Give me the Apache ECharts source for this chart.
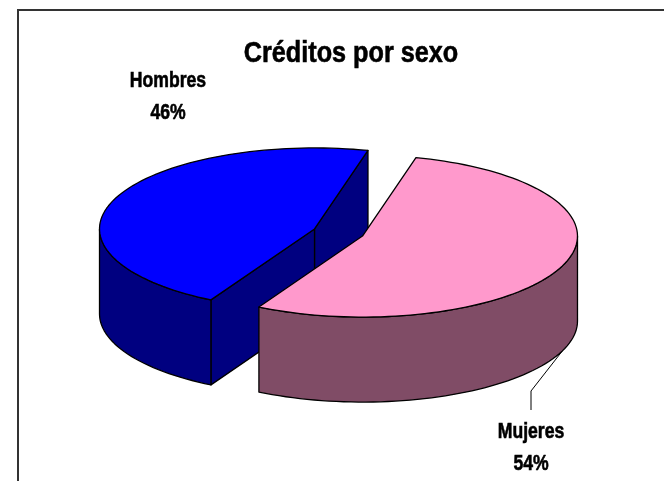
<!DOCTYPE html>
<html>
<head>
<meta charset="utf-8">
<script src="https://cdn.jsdelivr.net/npm/echarts@6/dist/echarts.min.js"></script>
<style>
html, body { margin: 0; padding: 0; background: #fff; }
#chart { width: 664px; height: 481px; }
</style>
</head>
<body>
<div id="chart"></div>
<script>
// data
const categories = ['Hombres', 'Mujeres'];
const values = [46, 54];

// look
const topColors = ['#0000FF', '#FF99CC'];
const sideColors = ['#000080', '#804C66'];
const FONT = '"Liberation Sans", Arial, sans-serif';
const NARROW = 0.8; // squeeze text horizontally, the original uses a narrow face

// 3d pie geometry (ellipse radii, thickness, explode ratio)
const CX = 338.5, CY = 232.5, RX = 215, RY = 81, DEPTH = 85, EXPLODE = 0.12;
const START = 241.2; // math degrees, slices run clockwise from here

const total = values.reduce((s, v) => s + v, 0);
let acc = 0;
const slices = values.map(v => {
    const to = START - acc / total * 360;
    acc += v;
    const from = START - acc / total * 360;
    return { from: from, to: to };
});

function rad(d) { return d * Math.PI / 180; }

function narrowText(txt, x, y, size, sx) {
    return {
        type: 'text',
        x: x, y: y, scaleX: sx,
        style: {
            text: txt, x: 0, y: 0, fill: '#000', stroke: '#000', lineWidth: 0.6,
            font: 'bold ' + size + 'px ' + FONT, align: 'center', verticalAlign: 'middle'
        }
    };
}

function renderSlice(params, api) {
    const i = params.dataIndex;
    const sl = slices[i];
    const mid = rad((sl.from + sl.to) / 2);
    const cx = CX + EXPLODE * RX * Math.cos(mid);
    const cy = CY - EXPLODE * RY * Math.sin(mid);
    const pt = (deg, z) => [cx + RX * Math.cos(rad(deg)), cy - RY * Math.sin(rad(deg)) + z];
    const arc = (a0, a1, z) => {
        const n = Math.max(2, Math.ceil(Math.abs(a1 - a0) / 2));
        const out = [];
        for (let k = 0; k <= n; k++) out.push(pt(a0 + (a1 - a0) * k / n, z));
        return out;
    };
    const edge = { stroke: '#000', lineWidth: 1.3, lineJoin: 'round' };
    const children = [];

    // radial faces, only the ones turned to the viewer
    [[sl.from, -90], [sl.to, 90]].forEach(([ang, off]) => {
        if (Math.sin(rad(ang + off)) < 0) {
            children.push({
                type: 'polygon',
                shape: { points: [[cx, cy], pt(ang, 0), pt(ang, DEPTH), [cx, cy + DEPTH]] },
                style: Object.assign({ fill: sideColors[i] }, edge)
            });
        }
    });

    // outer wall on the front half
    for (let k = -1; k <= 1; k++) {
        const s = Math.max(sl.from, 180 + 360 * k);
        const e = Math.min(sl.to, 360 + 360 * k);
        if (e > s) {
            children.push({
                type: 'polygon',
                shape: { points: arc(s, e, 0).concat(arc(e, s, DEPTH)) },
                style: Object.assign({ fill: sideColors[i] }, edge)
            });
        }
    }

    // top face
    children.push({
        type: 'polygon',
        shape: { points: [[cx, cy]].concat(arc(sl.from, sl.to, 0)) },
        style: Object.assign({ fill: topColors[i] }, edge)
    });

    // labels
    const pct = Math.round(api.value(0) / total * 100) + '%';
    if (i === 0) {
        children.push(narrowText(categories[i], 168, 81, 22, NARROW));
        children.push(narrowText(pct, 168, 113, 22, NARROW));
    } else {
        const p0 = pt((sl.from + sl.to) / 2, DEPTH);
        children.push({
            type: 'polyline',
            shape: { points: [p0, [531, 391], [531, 410]] },
            style: { stroke: '#000', lineWidth: 1, fill: null }
        });
        children.push(narrowText(categories[i], 531, 432, 22, NARROW));
        children.push(narrowText(pct, 531, 464, 22, NARROW));
    }

    return { type: 'group', children: children };
}

const chart = echarts.init(document.getElementById('chart'));
chart.setOption({
    backgroundColor: '#fff',
    animation: false,
    graphic: [
        {
            type: 'rect',
            shape: { x: 18, y: 10, width: 700, height: 520 },
            style: { fill: null, stroke: '#333', lineWidth: 2 },
            silent: true
        },
        narrowText('Créditos por sexo', 351, 54, 29, 0.87)
    ],
    series: [{
        type: 'custom',
        coordinateSystem: 'none',
        renderItem: renderSlice,
        data: values.map((v, i) => ({ name: categories[i], value: [v] }))
    }]
});
</script>
</body>
</html>
